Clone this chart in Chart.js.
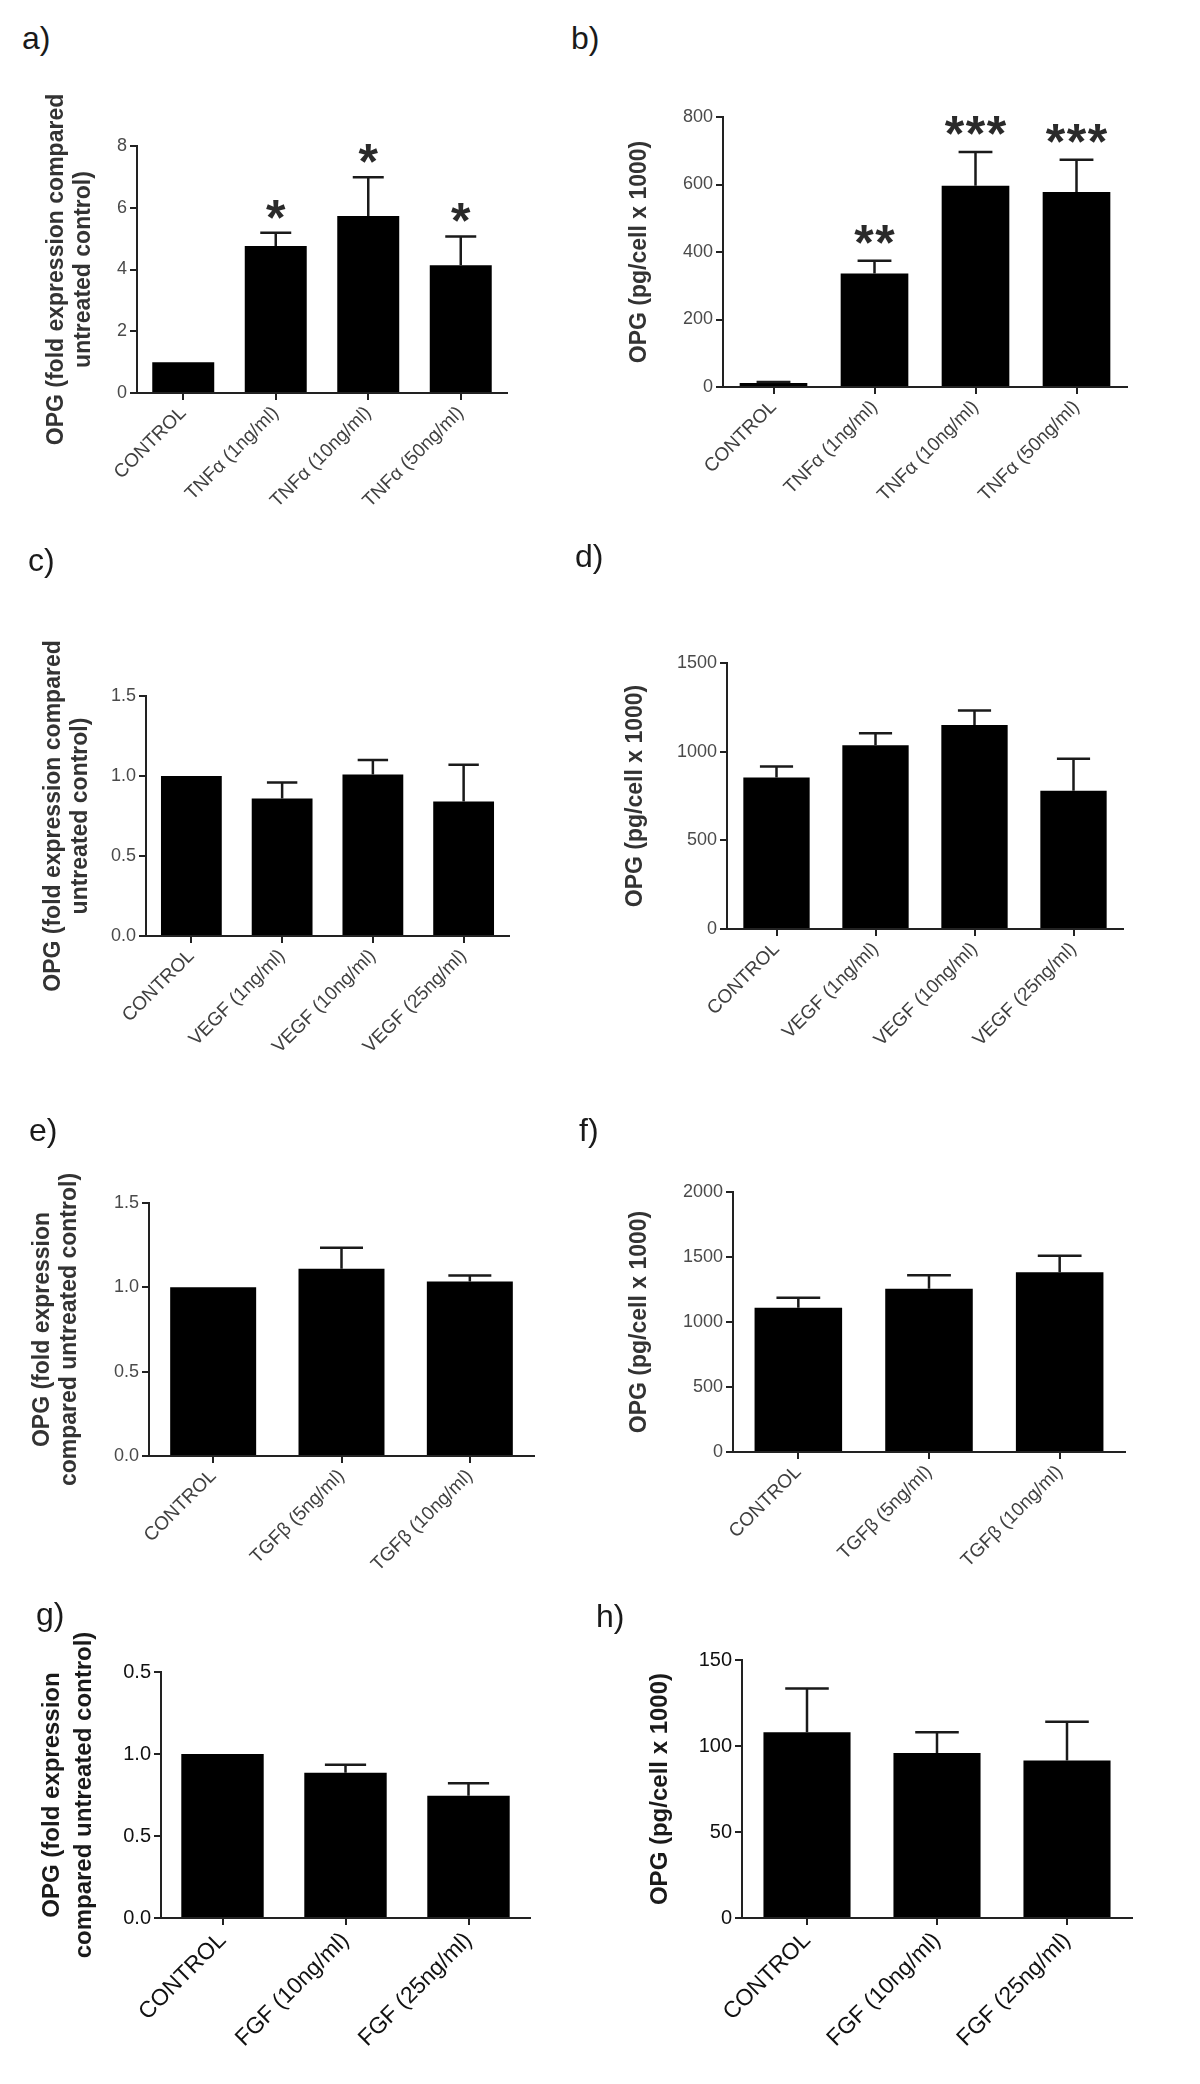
<!DOCTYPE html>
<html>
<head>
<meta charset="utf-8">
<title>OPG response to TNFα, VEGF, TGFβ and FGF</title>
<script src="https://cdn.jsdelivr.net/npm/chart.js@4.4.1/dist/chart.umd.min.js"></script>
<style>
  body { margin: 0; background: #fff; width: 1200px; height: 2084px; position: relative; overflow: hidden;
         font-family: "Liberation Sans", Arial, sans-serif; }
  .panel { position: absolute; }
  .letter { position: absolute; font-size: 32px; line-height: 1; color: #1a1a1a; }
</style>
</head>
<body>
<script>
// categories
const catsTnf = ['CONTROL', 'TNFα (1ng/ml)', 'TNFα (10ng/ml)', 'TNFα (50ng/ml)'];
const catsVegf = ['CONTROL', 'VEGF (1ng/ml)', 'VEGF (10ng/ml)', 'VEGF (25ng/ml)'];
const catsTgf = ['CONTROL', 'TGFβ (5ng/ml)', 'TGFβ (10ng/ml)'];
const catsFgf = ['CONTROL', 'FGF (10ng/ml)', 'FGF (25ng/ml)'];

// a) fold expression, TNFα
const foldTnf = [1.0, 4.76, 5.73, 4.14];
const foldTnfErr = [0, 0.43, 1.26, 0.93];
const foldTnfSig = ['', '*', '*', '*'];
// b) pg/cell, TNFα
const pgTnf = [12, 336, 596, 578];
const pgTnfErr = [3, 38, 100, 95];
const pgTnfSig = ['', '**', '***', '***'];
// c) fold expression, VEGF
const foldVegf = [1.0, 0.86, 1.01, 0.84];
const foldVegfErr = [0, 0.10, 0.09, 0.23];
// d) pg/cell, VEGF
const pgVegf = [854, 1036, 1150, 780];
const pgVegfErr = [63, 68, 82, 180];
// e) fold expression, TGFβ
const foldTgf = [1.0, 1.11, 1.035];
const foldTgfErr = [0, 0.125, 0.035];
// f) pg/cell, TGFβ
const pgTgf = [1110, 1256, 1382];
const pgTgfErr = [77, 103, 128];
// g) fold expression, FGF
const foldFgf = [1.0, 0.885, 0.745];
const foldFgfErr = [0, 0.05, 0.077];
// h) pg/cell, FGF
const pgFgf = [108, 96, 91.5];
const pgFgfErr = [25.5, 12, 22.6];

// tick labels
const ticksA = ['0', '2', '4', '6', '8'];
const ticksB = ['0', '200', '400', '600', '800'];
const ticksFold = ['0.0', '0.5', '1.0', '1.5'];
const ticksD = ['0', '500', '1000', '1500'];
const ticksF = ['0', '500', '1000', '1500', '2000'];
const ticksG = ['0.0', '0.5', '1.0', '0.5'];
const ticksH = ['0', '50', '100', '150'];

// axis titles
const titleFoldOne = ['OPG (fold expression compared', 'untreated control)'];
const titleFoldTwo = ['OPG (fold expression', 'compared untreated control)'];
const titlePg = 'OPG (pg/cell x 1000)';

const TOP_PAD = 60;

const grey = { tick: '#4a4a4a', label: '#404040', title: '#333', size: 18, labelSize: 19, titleSize: 23, lh: 1.17 };
const dark = { tick: '#111', label: '#111', title: '#1a1a1a', size: 20, labelSize: 23, titleSize: 24, lh: 1.33 };

const panels = [
    { letter: 'a)', lx: 22, ly: 22, cats: catsTnf, values: foldTnf, errors: foldTnfErr, sig: foldTnfSig,
      max: 8, step: 2, ticks: ticksA, title: titleFoldOne, titleX: 57,
      left: 0, width: 560, x0: 137, x1: 507, top: 146, zero: 393, xh: 170, style: grey, starGap: 26 },
    { letter: 'b)', lx: 571, ly: 22, cats: catsTnf, values: pgTnf, errors: pgTnfErr, sig: pgTnfSig,
      max: 800, step: 200, ticks: ticksB, title: titlePg, titleX: 640,
      left: 560, width: 640, x0: 723, x1: 1127, top: 117, zero: 387, xh: 170, style: grey, starGap: 29 },
    { letter: 'c)', lx: 28, ly: 544, cats: catsVegf, values: foldVegf, errors: foldVegfErr,
      max: 1.5, step: 0.5, ticks: ticksFold, title: titleFoldOne, titleX: 54,
      left: 0, width: 560, x0: 146, x1: 509, top: 696, zero: 936, xh: 170, style: grey },
    { letter: 'd)', lx: 575, ly: 540, cats: catsVegf, values: pgVegf, errors: pgVegfErr,
      max: 1500, step: 500, ticks: ticksD, title: titlePg, titleX: 636,
      left: 560, width: 640, x0: 727, x1: 1123, top: 663, zero: 929, xh: 170, style: grey },
    { letter: 'e)', lx: 29, ly: 1114, cats: catsTgf, values: foldTgf, errors: foldTgfErr,
      max: 1.5, step: 0.5, ticks: ticksFold, title: titleFoldTwo, titleX: 43,
      left: 0, width: 560, x0: 149, x1: 534, top: 1203, zero: 1456, xh: 150, style: grey },
    { letter: 'f)', lx: 579, ly: 1114, cats: catsTgf, values: pgTgf, errors: pgTgfErr,
      max: 2000, step: 500, ticks: ticksF, title: titlePg, titleX: 640,
      left: 560, width: 640, x0: 733, x1: 1125, top: 1192, zero: 1452, xh: 150, style: grey },
    { letter: 'g)', lx: 36, ly: 1598, cats: catsFgf, values: foldFgf, errors: foldFgfErr,
      max: 1.5, step: 0.5, ticks: ticksG, title: titleFoldTwo, titleX: 52,
      left: 0, width: 560, x0: 161, x1: 530, top: 1672, zero: 1918, xh: 160, style: dark },
    { letter: 'h)', lx: 596, ly: 1600, cats: catsFgf, values: pgFgf, errors: pgFgfErr,
      max: 150, step: 50, ticks: ticksH, title: titlePg, titleX: 660,
      left: 560, width: 640, x0: 742, x1: 1132, top: 1660, zero: 1918, xh: 160, style: dark }
];

// upward error bars plus significance stars above them
const errorBarPlugin = {
    id: 'errorBars',
    afterDatasetsDraw(chart) {
        const ds = chart.data.datasets[0];
        const meta = chart.getDatasetMeta(0);
        const yScale = chart.scales.y;
        const opts = chart.options.plugins.errorBars;
        const ctx = chart.ctx;
        ctx.save();
        ctx.strokeStyle = '#1a1a1a';
        ctx.lineWidth = 2.5;
        meta.data.forEach((bar, i) => {
            const v = ds.data[i];
            const e = ds.errors[i];
            const yTop = yScale.getPixelForValue(v);
            const yErr = yScale.getPixelForValue(v + e);
            if (e > 0) {
                const half = bar.width * 0.25;
                ctx.beginPath();
                ctx.moveTo(bar.x, yTop);
                ctx.lineTo(bar.x, yErr);
                ctx.moveTo(bar.x - half, yErr);
                ctx.lineTo(bar.x + half, yErr);
                ctx.stroke();
            }
            const sig = ds.sig ? ds.sig[i] : '';
            if (sig) {
                const size = 50;
                ctx.fillStyle = '#2a2a2a';
                ctx.font = `bold ${size}px "Liberation Sans", Arial, sans-serif`;
                ctx.textAlign = 'center';
                ctx.textBaseline = 'alphabetic';
                const n = sig.length;
                for (let k = 0; k < n; k++) {
                    const sx = bar.x + (k - (n - 1) / 2) * 21;
                    ctx.fillText('*', sx, yErr - opts.gap + size * 0.56);
                }
            }
        });
        ctx.restore();
    }
};

function makePanel(p) {
    const s = p.style;
    const boxTop = p.top - TOP_PAD;
    const height = (p.zero - p.top) + TOP_PAD + p.xh;

    const wrap = document.createElement('div');
    wrap.className = 'panel';
    wrap.style.left = p.left + 'px';
    wrap.style.top = boxTop + 'px';
    const canvas = document.createElement('canvas');
    canvas.width = p.width;
    canvas.height = height;
    wrap.appendChild(canvas);
    document.body.appendChild(wrap);

    const letter = document.createElement('div');
    letter.className = 'letter';
    letter.textContent = p.letter;
    letter.style.left = p.lx + 'px';
    letter.style.top = p.ly + 'px';
    document.body.appendChild(letter);

    const axisGrid = { display: true, drawOnChartArea: false, drawTicks: true, tickLength: 7, color: '#222', lineWidth: 2 };
    const lineHeight = s.titleSize * s.lh;

    new Chart(canvas, {
        type: 'bar',
        data: {
            labels: p.cats,
            datasets: [{
                data: p.values,
                errors: p.errors,
                sig: p.sig,
                backgroundColor: '#000',
                borderWidth: 0,
                barPercentage: 0.67,
                categoryPercentage: 1
            }]
        },
        options: {
            responsive: false,
            animation: false,
            devicePixelRatio: 1,
            layout: { padding: { top: TOP_PAD, right: p.left + p.width - p.x1, left: 0, bottom: 0 } },
            plugins: {
                legend: { display: false },
                tooltip: { enabled: false },
                errorBars: { gap: p.starGap || 26 }
            },
            scales: {
                x: {
                    grid: Object.assign({ offset: false }, axisGrid),
                    border: { display: true, color: '#222', width: 2 },
                    ticks: {
                        autoSkip: false, minRotation: 45, maxRotation: 45, padding: 2,
                        color: s.label, font: { size: s.labelSize, family: '"Liberation Sans", Arial, sans-serif' }
                    },
                    afterFit: scale => { scale.height = p.xh; }
                },
                y: {
                    min: 0,
                    max: p.max,
                    grid: axisGrid,
                    border: { display: true, color: '#222', width: 2 },
                    ticks: {
                        stepSize: p.step, padding: 3,
                        color: s.tick, font: { size: s.size, family: '"Liberation Sans", Arial, sans-serif' },
                        callback: (value, index) => p.ticks[index]
                    },
                    title: {
                        display: true,
                        text: p.title,
                        color: s.title,
                        font: { size: s.titleSize, weight: 'bold', lineHeight: s.lh, family: '"Liberation Sans", Arial, sans-serif' },
                        padding: { top: p.titleX - p.left - lineHeight / 2, bottom: 0 }
                    },
                    afterFit: scale => { scale.width = p.x0 - p.left; }
                }
            }
        },
        plugins: [errorBarPlugin]
    });
}

panels.forEach(makePanel);
</script>
</body>
</html>
